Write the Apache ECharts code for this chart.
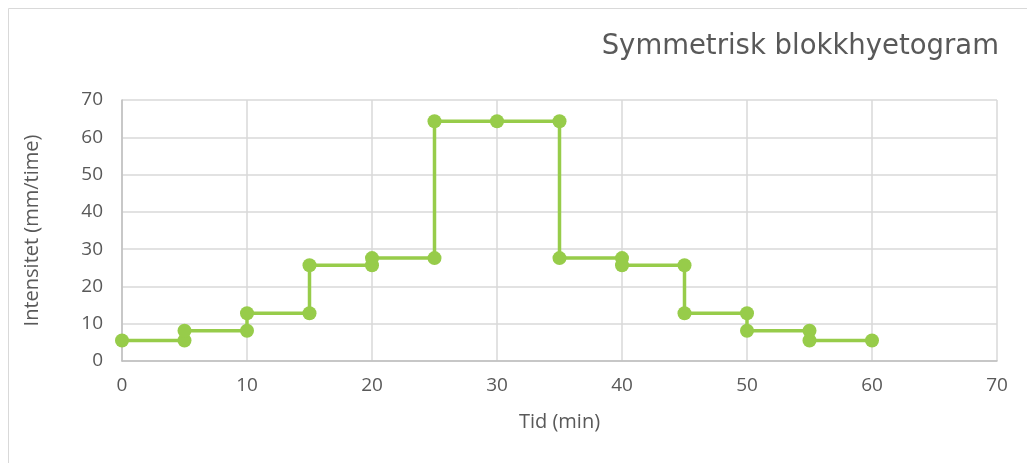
<!DOCTYPE html>
<html>
<head>
<meta charset="utf-8">
<script src="https://cdn.jsdelivr.net/npm/echarts@6/dist/echarts.min.js"></script>
<style>
  html, body { margin: 0; padding: 0; background: #ffffff; }
  #chart { width: 1027px; height: 463px; }
</style>
</head>
<body>
<div id="chart"></div>
<script>
// Symmetric block hyetograph: each 5-minute block drawn as a step (start and end point)
const timeMin = [0, 5, 5, 10, 10, 15, 15, 20, 20, 25, 25, 30, 35, 35, 40, 40, 45, 45, 50, 50, 55, 55, 60];
const intensity = [5.5, 5.5, 8.1, 8.1, 12.8, 12.8, 25.7, 25.7, 27.6, 27.6, 64.3, 64.3, 64.3, 27.6, 27.6, 25.7, 25.7, 12.8, 12.8, 8.1, 8.1, 5.5, 5.5];

const titleText = 'Symmetrisk blokkhyetogram';
const xName = 'Tid (min)';
const yName = 'Intensitet (mm/time)';

const points = timeMin.map((t, i) => [t, intensity[i]]);

const textColor = '#595959';
const fontFamily = '"Open Sans", Lato, sans-serif';

const chart = echarts.init(document.getElementById('chart'), null, { renderer: 'canvas' });
chart.setOption({
  backgroundColor: '#ffffff',
  animation: false,
  graphic: [{
    type: 'rect',
    shape: { x: 8.5, y: 8.5, width: 1040, height: 480 },
    style: { fill: 'none', stroke: '#d9d9d9', lineWidth: 1 },
    silent: true
  }],
  title: {
    text: titleText,
    right: 23,
    top: 28,
    textStyle: { color: textColor, fontSize: 27.5, fontWeight: 'normal', fontFamily: '"DejaVu Sans", sans-serif' }
  },
  grid: { left: 122, right: 30, top: 100, bottom: 102, containLabel: false },
  xAxis: {
    type: 'value',
    min: 0, max: 70, interval: 10,
    name: xName,
    nameLocation: 'middle',
    nameGap: 51,
    nameTextStyle: { color: textColor, fontSize: 20, fontFamily },
    axisLine: { show: true, lineStyle: { color: '#bfbfbf', width: 1.5 } },
    axisTick: { show: false },
    axisLabel: { color: textColor, fontSize: 19, fontFamily, margin: 15 },
    splitLine: { show: true, lineStyle: { color: '#d9d9d9', width: 1.5 } }
  },
  yAxis: {
    type: 'value',
    min: 0, max: 70, interval: 10,
    name: yName,
    nameLocation: 'middle',
    nameGap: 80,
    nameRotate: 90,
    nameTextStyle: { color: textColor, fontSize: 20, fontFamily },
    axisLine: { show: true, lineStyle: { color: '#bfbfbf', width: 1.5 } },
    axisTick: { show: false },
    axisLabel: { color: textColor, fontSize: 19, fontFamily, margin: 19 },
    splitLine: { show: true, lineStyle: { color: '#d9d9d9', width: 1.5 } }
  },
  series: [{
    type: 'line',
    data: points,
    symbol: 'circle',
    symbolSize: 14,
    itemStyle: { color: '#97cc4a' },
    lineStyle: { color: '#97cc4a', width: 3.5 },
    z: 3
  }]
});
</script>
</body>
</html>
